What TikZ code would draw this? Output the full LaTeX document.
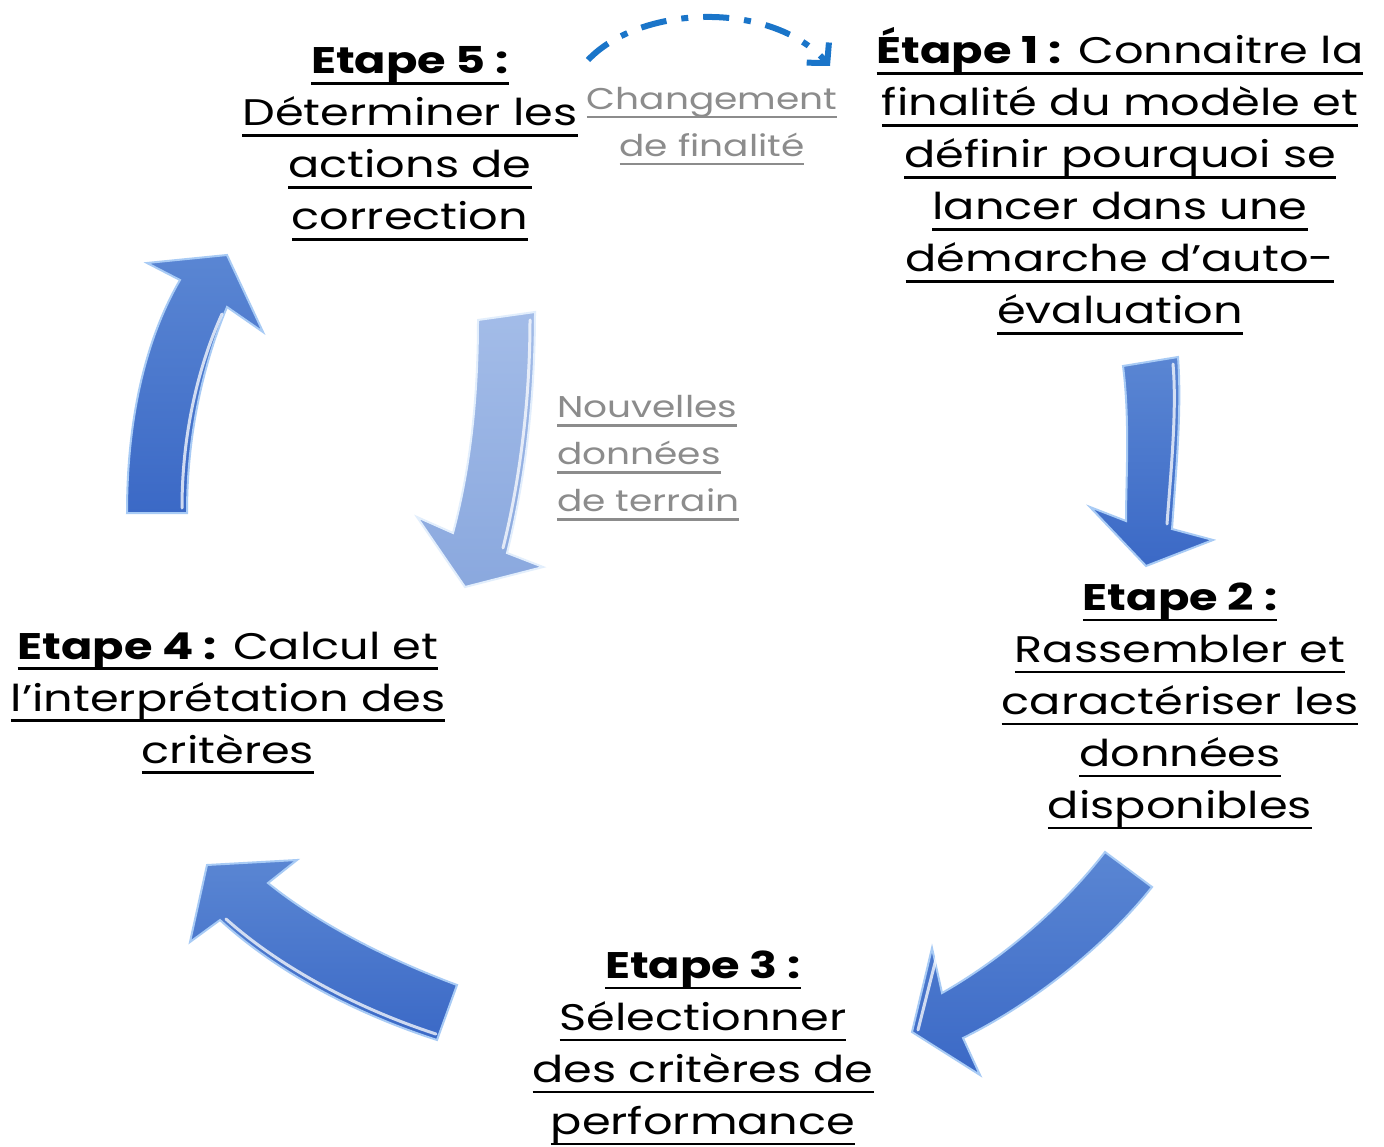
\documentclass[tikz,border=0pt]{standalone}
\usepackage{fontspec}
\setmainfont{Poppins}[FakeStretch=1.25]
\usetikzlibrary{arrows.meta}
\definecolor{atop}{HTML}{5A86D3}
\definecolor{abot}{HTML}{3B69C6}
\definecolor{aedge}{HTML}{A8CBF5}
\definecolor{ltop}{HTML}{A3BCE8}
\definecolor{lbot}{HTML}{8AA8DE}
\definecolor{ledge}{HTML}{E2EEFC}
\definecolor{dashblue}{HTML}{1A75C9}
\definecolor{graytxt}{HTML}{8C8C8C}
\newcommand\ulx[1]{\setbox0\hbox{#1}\rlap{\rule[-0.3em]{\wd0}{0.075em}}\box0}
\tikzset{
  etxt/.style={font=\fontsize{37}{52}\selectfont, align=center, inner sep=0pt},
  gtxt/.style={font=\fontsize{30}{47}\selectfont, text=graytxt, inner sep=0pt},
  blockarrow/.style={top color=atop, bottom color=abot, draw=aedge, line width=2pt, line join=miter},
  lightarrow/.style={top color=ltop, bottom color=lbot, draw=ledge, line width=2pt, line join=miter},
  hilite/.style={draw=white, draw opacity=0.75, line width=3pt, line cap=round},
  dasharrow/.style={draw=dashblue, line width=6pt, dash pattern=on 26pt off 15pt on 7pt off 15pt,
    -{Straight Barb[length=14pt,width=30pt,line width=6pt]}}
}
\begin{document}
\begin{tikzpicture}[x=1pt,y=-1pt]
\useasboundingbox[fill=white] (0,0) rectangle (1384,1147);

% block arrows
\path[blockarrow] (1123,366) .. controls (1130,420) and (1126,480) .. (1126,521) -- (1090,507) -- (1146,566) -- (1213,540) -- (1172,529) .. controls (1176,470) and (1182,410) .. (1178,357) -- cycle;
\draw[hilite] (1167,524) .. controls (1171,470) and (1177,410) .. (1173,364);
\path[blockarrow] (1105,852) .. controls (1060,910) and (1000,960) .. (942,993) -- (932,948) -- (912,1032) -- (980,1075) -- (963,1038) .. controls (1040,1000) and (1110,940) .. (1152,887) -- cycle;
\draw[hilite] (937,955) -- (918,1030);
\path[blockarrow] (457,985) .. controls (390,960) and (320,925) .. (268,883) -- (297,860) -- (207,865) -- (190,942) -- (220,920) .. controls (280,975) and (360,1015) .. (437,1040) -- cycle;
\draw[hilite] (226,919) .. controls (283,970) and (362,1010) .. (436,1034);
\path[blockarrow] (127,513) .. controls (127,420) and (145,340) .. (180,280) -- (147,263) -- (227,255) -- (263,332) -- (227,307) .. controls (205,360) and (187,430) .. (187,513) -- cycle;
\draw[hilite] (222,314) .. controls (200,362) and (182,430) .. (182,508);
\path[lightarrow] (478,320) .. controls (478,400) and (470,470) .. (453,533) -- (417,517) -- (465,587) -- (543,567) -- (507,553) .. controls (525,480) and (535,400) .. (535,312) -- cycle;
\draw[hilite] (503,548) .. controls (520,480) and (530,400) .. (530,320);

% dashed arrow
\coordinate (ds) at (588,60);
\coordinate (de) at (830,66);
\draw[dasharrow] (ds) .. controls (640,5) and (770,0) .. (de);

% texts
\node[etxt] (e1) at (1120,181) {\ulx{\textbf{Étape 1 :} Connaitre la}\\ \ulx{finalité du modèle et}\\ \ulx{définir pourquoi se}\\ \ulx{lancer dans une}\\ \ulx{démarche d’auto-}\\ \ulx{évaluation}};
\node[etxt] (e2) at (1180,706) {\ulx{\textbf{Etape 2 :}}\\ \ulx{Rassembler et}\\ \ulx{caractériser les}\\ \ulx{données}\\ \ulx{disponibles}};
\node[etxt] (e3) at (703,1048) {\ulx{\textbf{Etape 3 :}}\\ \ulx{Sélectionner}\\ \ulx{des critères de}\\ \ulx{performance}};
\node[etxt] (e4) at (228,703) {\ulx{\textbf{Etape 4 :} Calcul et}\\ \ulx{l’interprétation des}\\ \ulx{critères}};
\node[etxt] (e5) at (410,144) {\ulx{\textbf{Etape 5 :}}\\ \ulx{Déterminer les}\\ \ulx{actions de}\\ \ulx{correction}};
\node[gtxt, align=center] (chg) at (712,126) {\ulx{Changement}\\ \ulx{de finalité}};
\node[gtxt, align=left, anchor=west] (nouv) at (557,458) {\ulx{Nouvelles}\\ \ulx{données}\\ \ulx{de terrain}};
\end{tikzpicture}
\end{document}
